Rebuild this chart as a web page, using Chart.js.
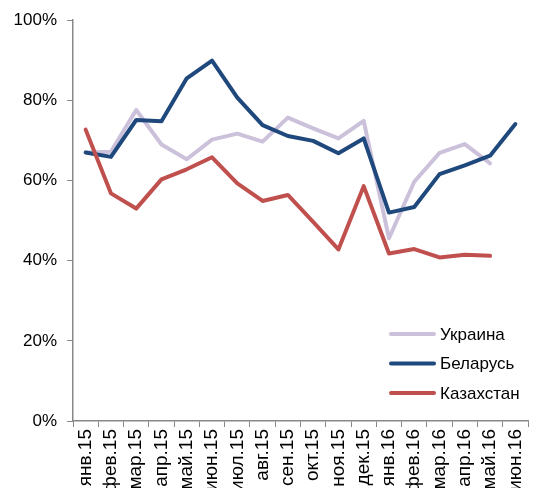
<!DOCTYPE html>
<html>
<head>
<meta charset="utf-8">
<script src="https://cdn.jsdelivr.net/npm/chart.js@4"></script>
<style>
  html, body { margin: 0; padding: 0; background: #fff; }
  #wrap { width: 541px; height: 488px; position: relative; }
</style>
</head>
<body>
<div id="wrap"><canvas id="lineChart"></canvas></div>
<script>
const months = ["янв.15","фев.15","мар.15","апр.15","май.15","июн.15","июл.15","авг.15","сен.15","окт.15","ноя.15","дек.15","янв.16","фев.16","мар.16","апр.16","май.16","июн.16"];
const ukraine = [67.0, 67.2, 77.6, 69.0, 65.3, 70.2, 71.7, 69.7, 75.7, 73.0, 70.5, 74.9, 45.6, 59.7, 66.9, 69.1, 64.3, null];
const belarus = [67.0, 65.9, 75.1, 74.8, 85.5, 89.9, 80.7, 73.8, 71.1, 69.9, 66.8, 70.5, 52.0, 53.4, 61.6, 63.8, 66.2, 74.1];
const kazakhstan = [72.7, 56.8, 53.0, 60.3, 62.8, 65.8, 59.3, 54.9, 56.4, 49.7, 42.8, 58.6, 41.8, 42.9, 40.8, 41.5, 41.2, null];
const yTicks = [0, 20, 40, 60, 80, 100];

const font = "'Liberation Sans', Arial, sans-serif";
const axisGray = "#888888";

// legend drawn by hand at the lower right of the plot
const legendPlugin = {
    id: "sideLegend",
    afterDraw(chart) {
        const ctx = chart.ctx;
        const sets = chart.data.datasets;
        ctx.save();
        sets.forEach((ds, i) => {
            const y = 334 + i * 29.5;
            ctx.strokeStyle = ds.borderColor;
            ctx.lineWidth = 4;
            ctx.lineCap = "round";
            ctx.beginPath();
            ctx.moveTo(391, y);
            ctx.lineTo(434, y);
            ctx.stroke();
            ctx.fillStyle = "#000";
            ctx.font = "17px " + font;
            ctx.textBaseline = "middle";
            ctx.fillText(ds.label, 440, y + 1);
        });
        ctx.restore();
    }
};

function createLineChart() {
    const ctx = document.getElementById("lineChart").getContext("2d");
    const line = (label, data, color, order) => ({
        label: label,
        data: data,
        borderColor: color,
        backgroundColor: color,
        borderWidth: 4,
        pointRadius: 0,
        tension: 0,
        borderCapStyle: "round",
        borderJoinStyle: "round",
        spanGaps: false,
        order: order
    });
    new Chart(ctx, {
        type: "line",
        data: {
            labels: months,
            datasets: [
                line("Украина", ukraine, "#ccc1da", 3),
                line("Беларусь", belarus, "#1f497d", 2),
                line("Казахстан", kazakhstan, "#c0504d", 1)
            ]
        },
        options: {
            responsive: true,
            maintainAspectRatio: false,
            animation: false,
            layout: { padding: { left: 0, right: 13, top: 20, bottom: 0 } },
            scales: {
                x: {
                    offset: true,
                    border: { color: axisGray, width: 1.5 },
                    grid: { drawOnChartArea: false, color: axisGray, tickLength: 6, offset: true },
                    ticks: {
                        minRotation: 90,
                        maxRotation: 90,
                        autoSkip: false,
                        padding: 2,
                        color: "#000",
                        font: { family: font, size: 19 }
                    },
                    afterFit(scale) { scale.height = 67; }
                },
                y: {
                    min: 0,
                    max: 100,
                    afterBuildTicks(scale) { scale.ticks = yTicks.map(v => ({ value: v })); },
                    border: { color: axisGray, width: 1.5 },
                    grid: { drawOnChartArea: false, color: axisGray, tickLength: 6 },
                    ticks: {
                        padding: 10,
                        color: "#000",
                        font: { family: font, size: 17 },
                        callback: v => v + "%"
                    },
                    afterFit(scale) { scale.width = 73; }
                }
            },
            plugins: {
                legend: { display: false },
                tooltip: { enabled: false }
            }
        },
        plugins: [legendPlugin]
    });
}

window.addEventListener("load", createLineChart);
</script>
</body>
</html>
